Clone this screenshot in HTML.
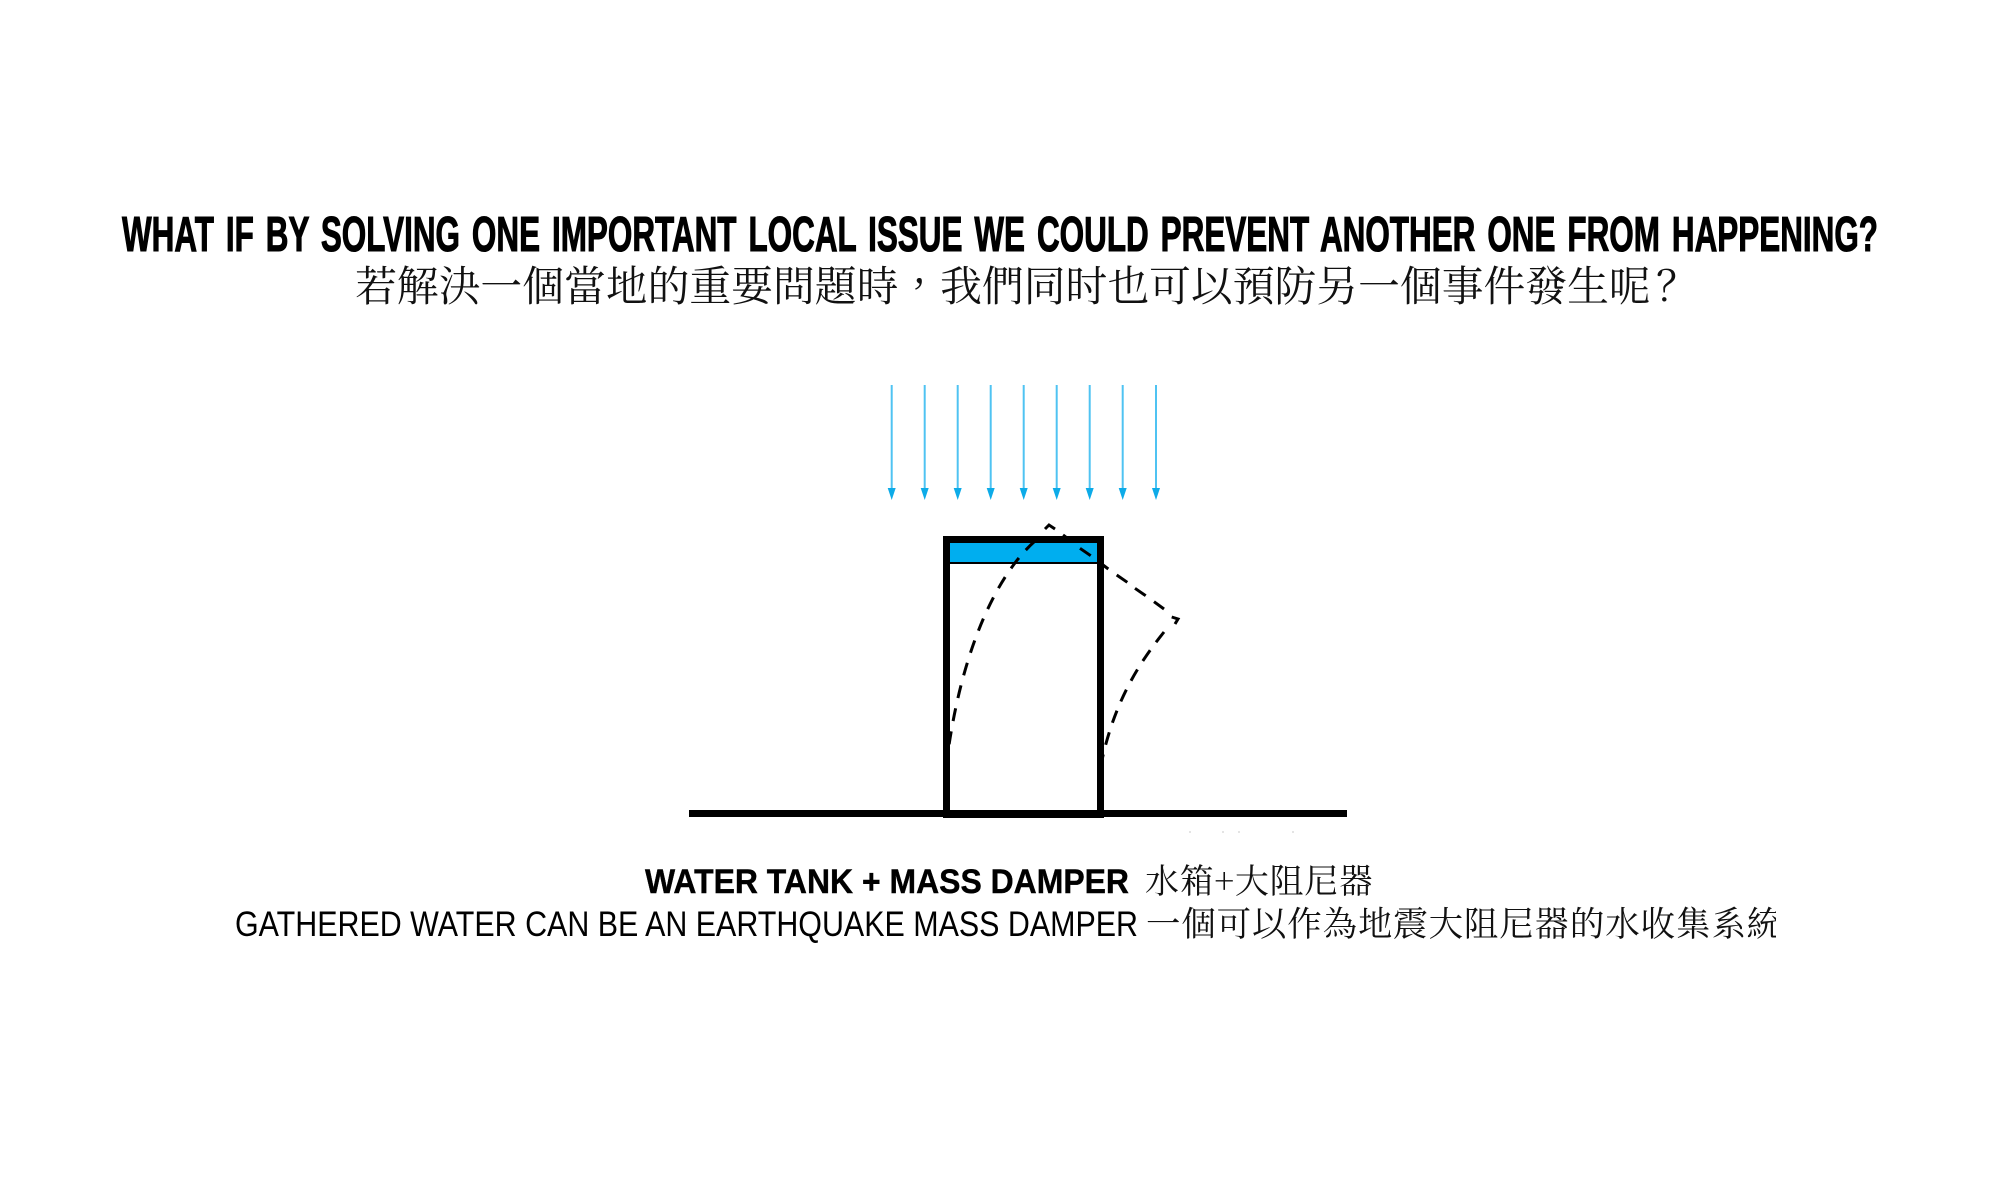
<!DOCTYPE html>
<html lang="zh-Hant">
<head>
<meta charset="utf-8">
<title>Water Tank + Mass Damper</title>
<style>
html,body{margin:0;padding:0;background:#fff;width:2000px;height:1203px;overflow:hidden}
svg{display:block}
.t{font-family:"Liberation Sans",sans-serif;fill:#000}
.c{font-family:"Noto Serif CJK SC","Noto Serif CJK JP",serif;fill:#111}
</style>
</head>
<body>
<svg width="2000" height="1203" viewBox="0 0 2000 1203" xmlns="http://www.w3.org/2000/svg">
<rect width="2000" height="1203" fill="#fff"/>

<text class="t" x="122" y="251" font-size="49" font-weight="700" stroke="#000" stroke-width="1.1" word-spacing="5" textLength="1756" lengthAdjust="spacingAndGlyphs">WHAT IF BY SOLVING ONE IMPORTANT LOCAL ISSUE WE COULD PREVENT ANOTHER ONE FROM HAPPENING?</text>
<text class="c" x="355" y="301" font-size="41.8">若解決一個當地的重要問題時&#xFF0C;我們同时也可以預防另一個事件發生呢</text>
<text class="c" x="1656" y="301" font-size="42">&#xFF1F;</text>

<g stroke="#4fc3f2" stroke-width="2" fill="none">
<path d="M891.7 385V490M924.7 385V490M957.7 385V490M990.7 385V490M1023.7 385V490M1056.7 385V490M1089.7 385V490M1122.7 385V490M1156 385V490"/>
</g>
<g fill="#0dabe8">
<path d="M887.7 488h8l-4 12zM920.7 488h8l-4 12zM953.7 488h8l-4 12zM986.7 488h8l-4 12zM1019.7 488h8l-4 12zM1052.7 488h8l-4 12zM1085.7 488h8l-4 12zM1118.7 488h8l-4 12zM1152 488h8l-4 12z"/>
</g>

<rect x="950" y="542" width="147" height="21" fill="#00aeef"/>
<rect x="950" y="562" width="147" height="2" fill="#000"/>
<g fill="#000">
<rect x="943" y="536" width="161" height="7"/>
<rect x="943" y="536" width="7" height="282"/>
<rect x="1097" y="536" width="7" height="282"/>
<rect x="689" y="810" width="658" height="7"/>
<rect x="943" y="811" width="161" height="7"/>
</g>

<g fill="none" stroke="#000" stroke-width="3">
<path d="M1035 541C1000 572 965 640 949 745" stroke-dasharray="13 10.5"/>
<path d="M1164 632C1140 662 1115 700 1102 760" stroke-dasharray="13 10"/>
<path d="M1045 529L1049 525L1055 529"/>
<path d="M1063 535L1067 538"/>
<path d="M1080 548.3L1090.7 555.7M1101.7 564L1108.3 569M1116.7 575L1127.3 582.3M1135 588.3L1145.7 595.7M1154 601.7L1164 609"/>
<path d="M1171.7 617L1178 619L1175 624"/>
</g>

<g fill="#e4e4e4">
<rect x="1189" y="831" width="2" height="2"/>
<rect x="1222" y="831" width="2" height="2"/>
<rect x="1238" y="831" width="2" height="2"/>
<rect x="1292" y="831" width="2" height="2"/>
</g>

<text class="t" x="645" y="893" font-size="34" font-weight="700" stroke="#000" stroke-width="0.4" textLength="484" lengthAdjust="spacingAndGlyphs">WATER TANK + MASS DAMPER</text>
<text class="c" x="1145" y="893" font-size="34" textLength="228" lengthAdjust="spacing">水箱+大阻尼器</text>
<text class="t" x="235" y="936" font-size="35" textLength="903" lengthAdjust="spacingAndGlyphs">GATHERED WATER CAN BE AN EARTHQUAKE MASS DAMPER</text>
<svg x="1140" y="900" width="636" height="50">
<text class="c" x="6" y="36" font-size="34.5" textLength="635" lengthAdjust="spacing">一個可以作為地震大阻尼器的水收集系統</text>
</svg>
</svg>
</body>
</html>
